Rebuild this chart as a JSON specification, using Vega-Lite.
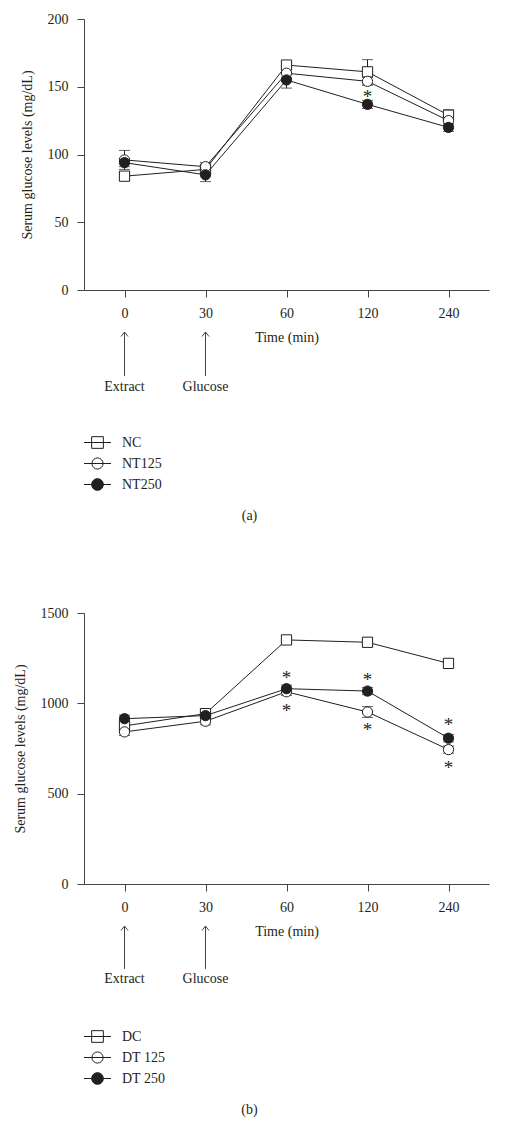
{
  "$schema": "https://vega.github.io/schema/vega-lite/v6.json",
  "background": "white",
  "padding": {"top": 12, "left": 13, "right": 5, "bottom": 5},
  "bounds": "flush",
  "spacing": 323,
  "config": {
    "view": {"stroke": null},
    "font": "Liberation Serif",
    "axis": {
      "domainColor": "#444444", "tickColor": "#444444", "labelColor": "#231f20", "titleColor": "#231f20",
      "labelFont": "Liberation Serif", "titleFont": "Liberation Serif", "labelFontSize": 14, "titleFontSize": 14,
      "titleFontWeight": "normal", "grid": false, "tickSize": 7, "domainWidth": 1, "tickWidth": 1
    },
    "axisX": {"labelPadding": 9, "titlePadding": 10, "labelAngle": 0},
    "axisY": {"labelPadding": 9, "titlePadding": 13, "format": "d"}
  },
  "datasets": {
    "a": [
      {"g": "NC", "t": "0", "v": 84, "lo": 81, "hi": 87},
      {"g": "NC", "t": "30", "v": 89, "lo": 87, "hi": 91},
      {"g": "NC", "t": "60", "v": 166, "lo": 163, "hi": 169},
      {"g": "NC", "t": "120", "v": 161, "lo": 152, "hi": 170},
      {"g": "NC", "t": "240", "v": 129, "lo": 125, "hi": 133},
      {"g": "NT125", "t": "0", "v": 96, "lo": 89, "hi": 103},
      {"g": "NT125", "t": "30", "v": 91, "lo": 88, "hi": 94},
      {"g": "NT125", "t": "60", "v": 160, "lo": 157, "hi": 163},
      {"g": "NT125", "t": "120", "v": 154, "lo": 151, "hi": 157},
      {"g": "NT125", "t": "240", "v": 125, "lo": 122, "hi": 128},
      {"g": "NT250", "t": "0", "v": 94, "lo": 91, "hi": 97},
      {"g": "NT250", "t": "30", "v": 85, "lo": 80, "hi": 90},
      {"g": "NT250", "t": "60", "v": 155, "lo": 149, "hi": 161},
      {"g": "NT250", "t": "120", "v": 137, "lo": 134, "hi": 140},
      {"g": "NT250", "t": "240", "v": 120, "lo": 117, "hi": 123}
    ],
    "b": [
      {"g": "DC", "t": "0", "v": 875, "lo": 850, "hi": 900},
      {"g": "DC", "t": "30", "v": 943, "lo": 920, "hi": 966},
      {"g": "DC", "t": "60", "v": 1351, "lo": 1330, "hi": 1372},
      {"g": "DC", "t": "120", "v": 1338, "lo": 1315, "hi": 1361},
      {"g": "DC", "t": "240", "v": 1221, "lo": 1200, "hi": 1242},
      {"g": "DT 125", "t": "0", "v": 842, "lo": 822, "hi": 862},
      {"g": "DT 125", "t": "30", "v": 901, "lo": 881, "hi": 921},
      {"g": "DT 125", "t": "60", "v": 1064, "lo": 1044, "hi": 1084},
      {"g": "DT 125", "t": "120", "v": 952, "lo": 922, "hi": 982},
      {"g": "DT 125", "t": "240", "v": 744, "lo": 724, "hi": 764},
      {"g": "DT 250", "t": "0", "v": 915, "lo": 895, "hi": 935},
      {"g": "DT 250", "t": "30", "v": 932, "lo": 912, "hi": 952},
      {"g": "DT 250", "t": "60", "v": 1081, "lo": 1061, "hi": 1101},
      {"g": "DT 250", "t": "120", "v": 1068, "lo": 1048, "hi": 1088},
      {"g": "DT 250", "t": "240", "v": 807, "lo": 787, "hi": 827}
    ],
    "astA": [{"t": "120", "v": 145}],
    "astB": [
      {"t": "60", "v": 1156}, {"t": "60", "v": 972},
      {"t": "120", "v": 1143}, {"t": "120", "v": 871},
      {"t": "240", "v": 895}, {"t": "240", "v": 656}
    ],
    "ann": [{"t": "0", "label": "Extract"}, {"t": "30", "label": "Glucose"}]
  },
  "vconcat": [
    {
      "width": 405,
      "height": 271,
      "title": {"text": "(a)", "orient": "bottom", "anchor": "middle", "frame": "group", "dx": -37, "offset": 16, "fontSize": 14, "font": "Liberation Serif", "fontWeight": "normal", "color": "#231f20"},
      "encoding": {
        "x": {"field": "t", "type": "ordinal", "title": "Time (min)", "scale": {"type": "point", "padding": 0.5, "domain": ["0", "30", "60", "120", "240"]}}
      },
      "resolve": {"scale": {"shape": "independent", "fill": "independent"}, "legend": {"shape": "independent", "fill": "independent"}},
      "layer": [
        {"data": {"name": "a"}, "mark": {"type": "rule", "color": "#231f20", "strokeWidth": 1},
         "encoding": {"y": {"field": "lo", "type": "quantitative", "title": "Serum glucose levels (mg/dL)", "scale": {"domain": [0, 200], "nice": false}, "axis": {"values": [0, 50, 100, 150, 200]}}, "y2": {"field": "hi"}}},
        {"data": {"name": "a"}, "mark": {"type": "tick", "orient": "horizontal", "size": 11, "thickness": 1, "color": "#231f20"},
         "encoding": {"y": {"field": "lo", "type": "quantitative", "title": "Serum glucose levels (mg/dL)", "scale": {"domain": [0, 200], "nice": false}, "axis": {"values": [0, 50, 100, 150, 200]}}}},
        {"data": {"name": "a"}, "mark": {"type": "tick", "orient": "horizontal", "size": 11, "thickness": 1, "color": "#231f20"},
         "encoding": {"y": {"field": "hi", "type": "quantitative", "title": "Serum glucose levels (mg/dL)", "scale": {"domain": [0, 200], "nice": false}, "axis": {"values": [0, 50, 100, 150, 200]}}}},
        {"data": {"name": "a"}, "mark": {"type": "line", "color": "#231f20", "strokeWidth": 1},
         "encoding": {"y": {"field": "v", "type": "quantitative", "title": "Serum glucose levels (mg/dL)", "scale": {"domain": [0, 200], "nice": false}, "axis": {"values": [0, 50, 100, 150, 200]}}, "detail": {"field": "g"}}},
        {"data": {"name": "a"}, "mark": {"type": "point", "filled": true, "stroke": "#231f20", "strokeWidth": 1, "opacity": 0, "size": 105},
         "encoding": {
           "y": {"field": "v", "type": "quantitative", "title": "Serum glucose levels (mg/dL)", "scale": {"domain": [0, 200], "nice": false}, "axis": {"values": [0, 50, 100, 150, 200]}},
           "shape": {"field": "g", "type": "nominal", "scale": {"domain": ["NC", "NT125", "NT250"], "range": ["M-1.5,0H1.5M-0.65,-0.65H0.65V0.65H-0.65Z", "M-1.5,0H1.5M0.62,0A0.62,0.62 0 1,1 -0.62,0A0.62,0.62 0 1,1 0.62,0Z", "M-1.5,0H1.5M0.65,0A0.65,0.65 0 1,1 -0.65,0A0.65,0.65 0 1,1 0.65,0Z"]},
             "legend": {"title": null, "orient": "none", "legendX": 4, "legendY": 414, "symbolSize": 324, "labelOffset": 15, "rowPadding": 3,
               "labelFontSize": 14, "labelFont": "Liberation Serif", "labelColor": "#231f20", "symbolStrokeWidth": 1, "symbolStrokeColor": "#231f20", "symbolOpacity": 1,
               "encoding": {"symbols": {"stroke": {"value": "#231f20"}, "strokeWidth": {"value": 1}, "opacity": {"value": 1}}}}},
           "fill": {"field": "g", "type": "nominal", "scale": {"domain": ["NC", "NT125", "NT250"], "range": ["white", "white", "#231f20"]},
             "legend": {"title": null, "orient": "none", "legendX": 4, "legendY": 414, "symbolSize": 324, "labelOffset": 15, "rowPadding": 3,
               "labelFontSize": 14, "labelFont": "Liberation Serif", "labelColor": "#231f20", "symbolStrokeWidth": 1, "symbolStrokeColor": "#231f20", "symbolOpacity": 1,
               "encoding": {"symbols": {"stroke": {"value": "#231f20"}, "strokeWidth": {"value": 1}, "opacity": {"value": 1}}}}}
         }},
        {"data": {"name": "a"}, "mark": {"type": "point", "filled": true, "stroke": "#231f20", "strokeWidth": 1, "opacity": 1, "size": 105},
         "encoding": {
           "y": {"field": "v", "type": "quantitative", "title": "Serum glucose levels (mg/dL)", "scale": {"domain": [0, 200], "nice": false}, "axis": {"values": [0, 50, 100, 150, 200]}},
           "shape": {"field": "g", "type": "nominal", "scale": {"domain": ["NC", "NT125", "NT250"], "range": ["square", "circle", "circle"]}, "legend": null},
           "fill": {"field": "g", "type": "nominal", "scale": {"domain": ["NC", "NT125", "NT250"], "range": ["white", "white", "#231f20"]}, "legend": null}
         }},
        {"data": {"name": "astA"}, "mark": {"type": "text", "text": "*", "fontSize": 19, "font": "Liberation Serif", "color": "#231f20", "baseline": "middle", "dy": 3},
         "encoding": {"y": {"field": "v", "type": "quantitative", "title": "Serum glucose levels (mg/dL)", "scale": {"domain": [0, 200], "nice": false}, "axis": {"values": [0, 50, 100, 150, 200]}}}},
        {"data": {"name": "ann"}, "mark": {"type": "rule", "color": "#444444", "strokeWidth": 1},
         "encoding": {"y": {"datum": -31, "type": "quantitative", "title": "Serum glucose levels (mg/dL)", "scale": {"domain": [0, 200], "nice": false}, "axis": {"values": [0, 50, 100, 150, 200]}}, "y2": {"datum": -63.5}}},
        {"data": {"name": "ann"}, "mark": {"type": "point", "shape": "M-0.7,0.9L0,0L0.7,0.9", "filled": false, "stroke": "#444444", "strokeWidth": 1, "opacity": 1, "size": 100},
         "encoding": {"y": {"datum": -31, "type": "quantitative", "title": "Serum glucose levels (mg/dL)", "scale": {"domain": [0, 200], "nice": false}, "axis": {"values": [0, 50, 100, 150, 200]}}}},
        {"data": {"name": "ann"}, "mark": {"type": "text", "fontSize": 14, "font": "Liberation Serif", "color": "#231f20", "baseline": "middle"},
         "encoding": {"y": {"datum": -71.5, "type": "quantitative", "title": "Serum glucose levels (mg/dL)", "scale": {"domain": [0, 200], "nice": false}, "axis": {"values": [0, 50, 100, 150, 200]}}, "text": {"field": "label"}}}
      ]
    },
    {
      "width": 405,
      "height": 271,
      "title": {"text": "(b)", "orient": "bottom", "anchor": "middle", "frame": "group", "dx": -37, "offset": 16, "fontSize": 14, "font": "Liberation Serif", "fontWeight": "normal", "color": "#231f20"},
      "encoding": {
        "x": {"field": "t", "type": "ordinal", "title": "Time (min)", "scale": {"type": "point", "padding": 0.5, "domain": ["0", "30", "60", "120", "240"]}}
      },
      "resolve": {"scale": {"shape": "independent", "fill": "independent"}, "legend": {"shape": "independent", "fill": "independent"}},
      "layer": [
        {"data": {"name": "b"}, "mark": {"type": "rule", "color": "#231f20", "strokeWidth": 1},
         "encoding": {"y": {"field": "lo", "type": "quantitative", "title": "Serum glucose levels (mg/dL)", "scale": {"domain": [0, 1500], "nice": false}, "axis": {"values": [0, 500, 1000, 1500]}}, "y2": {"field": "hi"}}},
        {"data": {"name": "b"}, "mark": {"type": "tick", "orient": "horizontal", "size": 11, "thickness": 1, "color": "#231f20"},
         "encoding": {"y": {"field": "lo", "type": "quantitative", "title": "Serum glucose levels (mg/dL)", "scale": {"domain": [0, 1500], "nice": false}, "axis": {"values": [0, 500, 1000, 1500]}}}},
        {"data": {"name": "b"}, "mark": {"type": "tick", "orient": "horizontal", "size": 11, "thickness": 1, "color": "#231f20"},
         "encoding": {"y": {"field": "hi", "type": "quantitative", "title": "Serum glucose levels (mg/dL)", "scale": {"domain": [0, 1500], "nice": false}, "axis": {"values": [0, 500, 1000, 1500]}}}},
        {"data": {"name": "b"}, "mark": {"type": "line", "color": "#231f20", "strokeWidth": 1},
         "encoding": {"y": {"field": "v", "type": "quantitative", "title": "Serum glucose levels (mg/dL)", "scale": {"domain": [0, 1500], "nice": false}, "axis": {"values": [0, 500, 1000, 1500]}}, "detail": {"field": "g"}}},
        {"data": {"name": "b"}, "mark": {"type": "point", "filled": true, "stroke": "#231f20", "strokeWidth": 1, "opacity": 0, "size": 105},
         "encoding": {
           "y": {"field": "v", "type": "quantitative", "title": "Serum glucose levels (mg/dL)", "scale": {"domain": [0, 1500], "nice": false}, "axis": {"values": [0, 500, 1000, 1500]}},
           "shape": {"field": "g", "type": "nominal", "scale": {"domain": ["DC", "DT 125", "DT 250"], "range": ["M-1.5,0H1.5M-0.65,-0.65H0.65V0.65H-0.65Z", "M-1.5,0H1.5M0.62,0A0.62,0.62 0 1,1 -0.62,0A0.62,0.62 0 1,1 0.62,0Z", "M-1.5,0H1.5M0.65,0A0.65,0.65 0 1,1 -0.65,0A0.65,0.65 0 1,1 0.65,0Z"]},
             "legend": {"title": null, "orient": "none", "legendX": 4, "legendY": 414, "symbolSize": 324, "labelOffset": 15, "rowPadding": 3,
               "labelFontSize": 14, "labelFont": "Liberation Serif", "labelColor": "#231f20", "symbolStrokeWidth": 1, "symbolStrokeColor": "#231f20", "symbolOpacity": 1,
               "encoding": {"symbols": {"stroke": {"value": "#231f20"}, "strokeWidth": {"value": 1}, "opacity": {"value": 1}}}}},
           "fill": {"field": "g", "type": "nominal", "scale": {"domain": ["DC", "DT 125", "DT 250"], "range": ["white", "white", "#231f20"]},
             "legend": {"title": null, "orient": "none", "legendX": 4, "legendY": 414, "symbolSize": 324, "labelOffset": 15, "rowPadding": 3,
               "labelFontSize": 14, "labelFont": "Liberation Serif", "labelColor": "#231f20", "symbolStrokeWidth": 1, "symbolStrokeColor": "#231f20", "symbolOpacity": 1,
               "encoding": {"symbols": {"stroke": {"value": "#231f20"}, "strokeWidth": {"value": 1}, "opacity": {"value": 1}}}}}
         }},
        {"data": {"name": "b"}, "mark": {"type": "point", "filled": true, "stroke": "#231f20", "strokeWidth": 1, "opacity": 1, "size": 105},
         "encoding": {
           "y": {"field": "v", "type": "quantitative", "title": "Serum glucose levels (mg/dL)", "scale": {"domain": [0, 1500], "nice": false}, "axis": {"values": [0, 500, 1000, 1500]}},
           "shape": {"field": "g", "type": "nominal", "scale": {"domain": ["DC", "DT 125", "DT 250"], "range": ["square", "circle", "circle"]}, "legend": null},
           "fill": {"field": "g", "type": "nominal", "scale": {"domain": ["DC", "DT 125", "DT 250"], "range": ["white", "white", "#231f20"]}, "legend": null}
         }},
        {"data": {"name": "astB"}, "mark": {"type": "text", "text": "*", "fontSize": 19, "font": "Liberation Serif", "color": "#231f20", "baseline": "middle", "dy": 3},
         "encoding": {"y": {"field": "v", "type": "quantitative", "title": "Serum glucose levels (mg/dL)", "scale": {"domain": [0, 1500], "nice": false}, "axis": {"values": [0, 500, 1000, 1500]}}}},
        {"data": {"name": "ann"}, "mark": {"type": "rule", "color": "#444444", "strokeWidth": 1},
         "encoding": {"y": {"datum": -232.5, "type": "quantitative", "title": "Serum glucose levels (mg/dL)", "scale": {"domain": [0, 1500], "nice": false}, "axis": {"values": [0, 500, 1000, 1500]}}, "y2": {"datum": -470}}},
        {"data": {"name": "ann"}, "mark": {"type": "point", "shape": "M-0.7,0.9L0,0L0.7,0.9", "filled": false, "stroke": "#444444", "strokeWidth": 1, "opacity": 1, "size": 100},
         "encoding": {"y": {"datum": -232.5, "type": "quantitative", "title": "Serum glucose levels (mg/dL)", "scale": {"domain": [0, 1500], "nice": false}, "axis": {"values": [0, 500, 1000, 1500]}}}},
        {"data": {"name": "ann"}, "mark": {"type": "text", "fontSize": 14, "font": "Liberation Serif", "color": "#231f20", "baseline": "middle"},
         "encoding": {"y": {"datum": -526, "type": "quantitative", "title": "Serum glucose levels (mg/dL)", "scale": {"domain": [0, 1500], "nice": false}, "axis": {"values": [0, 500, 1000, 1500]}}, "text": {"field": "label"}}}
      ]
    }
  ],
  "resolve": {
    "scale": {"x": "independent", "y": "independent", "shape": "independent", "fill": "independent"},
    "legend": {"shape": "independent", "fill": "independent"}
  }
}
